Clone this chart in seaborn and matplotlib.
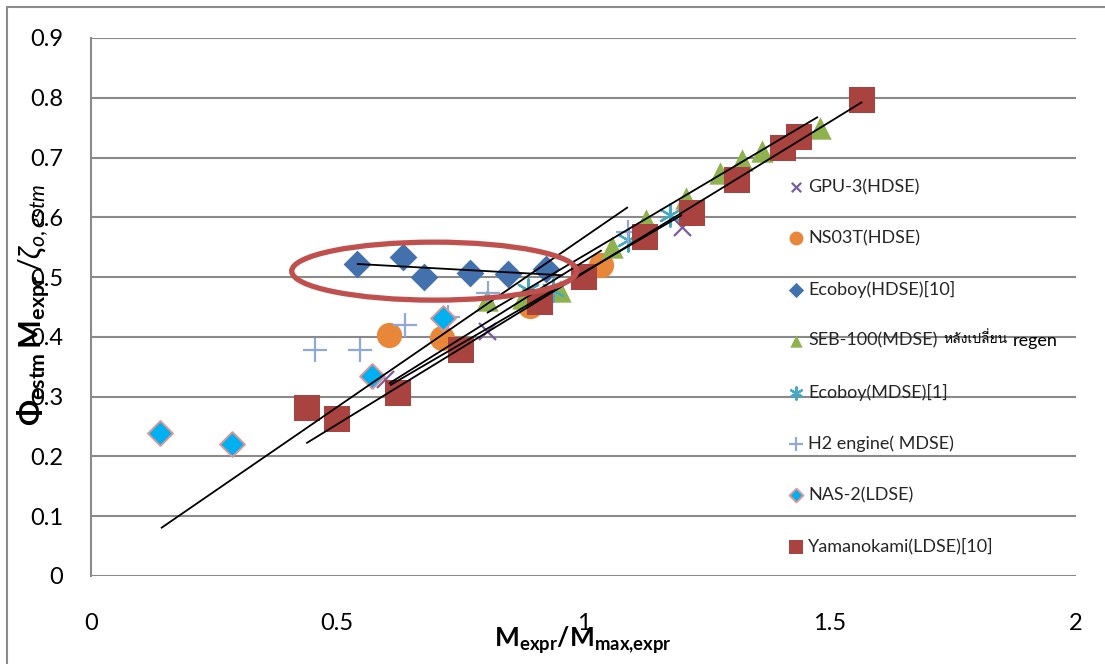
import numpy as np
import pandas as pd
import matplotlib
matplotlib.use("Agg")
import matplotlib.pyplot as plt
from matplotlib.patches import Ellipse, Rectangle
from matplotlib import font_manager as fm
from matplotlib.ft2font import FT2Font
import seaborn as sns

# ---- measured data (M_expr/M_max,expr  vs  efficiency ratio) ----
gpu3_x = [0.597, 0.804, 1.200]
gpu3_y = [0.330, 0.410, 0.584]

ns03t_x = [0.605, 0.713, 0.891, 1.036]
ns03t_y = [0.403, 0.398, 0.452, 0.520]

ecoboy_hdse_x = [0.540, 0.634, 0.676, 0.770, 0.847, 0.924]
ecoboy_hdse_y = [0.522, 0.533, 0.500, 0.507, 0.505, 0.513]

seb100_x = [0.804, 0.877, 0.952, 1.058, 1.127, 1.208, 1.277, 1.322, 1.362, 1.440, 1.480]
seb100_y = [0.462, 0.465, 0.476, 0.550, 0.595, 0.632, 0.674, 0.696, 0.711, 0.736, 0.749]

ecoboy_mdse_x = [0.887, 0.938, 1.090, 1.176]
ecoboy_mdse_y = [0.478, 0.478, 0.562, 0.604]

h2_x = [0.455, 0.546, 0.638, 0.725, 0.806, 1.090]
h2_y = [0.378, 0.378, 0.420, 0.434, 0.473, 0.575]

nas2_x = [0.140, 0.286, 0.571, 0.715]
nas2_y = [0.240, 0.221, 0.334, 0.431]

yama_x = [0.439, 0.500, 0.624, 0.751, 0.912, 1.000, 1.125, 1.220, 1.312, 1.405, 1.438, 1.566]
yama_y = [0.281, 0.263, 0.306, 0.378, 0.458, 0.500, 0.567, 0.607, 0.662, 0.716, 0.734, 0.796]

# straight trend lines (end points in data units)
trend_all_x = [0.142, 1.090]
trend_all_y = [0.080, 0.617]
trend_ecoboy_x = [0.540, 0.958]
trend_ecoboy_y = [0.522, 0.503]
trend_gpu3_x = [0.607, 1.200]
trend_gpu3_y = [0.319, 0.604]
trend_ns03t_x = [0.605, 1.037]
trend_ns03t_y = [0.322, 0.545]
trend_seb_x = [0.804, 1.476]
trend_seb_y = [0.440, 0.768]
trend_yama_x = [0.437, 1.566]
trend_yama_y = [0.222, 0.793]

labels = ["GPU-3(HDSE)", "NS03T(HDSE)", "Ecoboy(HDSE)[10]", "SEB-100(MDSE)",
          "Ecoboy(MDSE)[1]", "H2 engine( MDSE)", "NAS-2(LDSE)", "Yamanokami(LDSE)[10]"]
x_ticks = [0, 0.5, 1, 1.5, 2]
x_tick_labels = ["0", "0.5", "1", "1.5", "2"]
y_ticks = [0, 0.1, 0.2, 0.3, 0.4, 0.5, 0.6, 0.7, 0.8, 0.9]
y_tick_labels = ["0", "0.1", "0.2", "0.3", "0.4", "0.5", "0.6", "0.7", "0.8", "0.9"]


def thai_family():
    for fe in fm.fontManager.ttflist:
        try:
            if 0x0E2B in FT2Font(fe.fname).get_charmap():
                return fe.name
        except Exception:
            continue
    return None


sns.set_theme(style="white")
plt.rcParams["font.family"] = ["Lato", "DejaVu Sans"]
plt.rcParams["mathtext.fontset"] = "custom"
plt.rcParams["mathtext.rm"] = "Lato"
plt.rcParams["mathtext.it"] = "Lato:italic"
plt.rcParams["mathtext.bf"] = "Lato:bold"

W, H = 1105, 664
fig = plt.figure(figsize=(W / 100, H / 100), dpi=100)
fig.patch.set_facecolor("white")

# outer chart border
fig.add_artist(Rectangle((7 / W, -0.05), 1.2, 1 - 7 / H + 0.05, transform=fig.transFigure,
                         fill=False, edgecolor="#8c8c8c", linewidth=1.5, zorder=0))

ax = fig.add_axes([91 / W, 1 - 576 / H, (1076 - 91) / W, (576 - 38) / H])
ax.set_xlim(0, 2)
ax.set_ylim(0, 0.9)
ax.set_xticks(x_ticks, x_tick_labels)
ax.set_yticks(y_ticks, y_tick_labels)
ax.tick_params(axis="both", length=0, labelsize=17, colors="black")
ax.tick_params(axis="y", pad=20)
ax.tick_params(axis="x", pad=27)
ax.yaxis.grid(True, color="#8a8a8a", linewidth=1.5)
ax.xaxis.grid(False)
for s in ["top", "right", "bottom"]:
    ax.spines[s].set_visible(False)
ax.spines["left"].set_color("#8a8a8a")
ax.spines["left"].set_linewidth(1.5)
ax.set_axisbelow(True)

# series
sns.scatterplot(x=gpu3_x, y=gpu3_y, ax=ax, marker="x", s=150, color="#7a5d9e",
                linewidth=1.6, label=labels[0], zorder=3)
sns.scatterplot(x=ns03t_x, y=ns03t_y, ax=ax, marker="o", s=330, color="#e8873a",
                edgecolor="#e8873a", linewidth=0, label=labels[1], zorder=3)
sns.scatterplot(x=ecoboy_hdse_x, y=ecoboy_hdse_y, ax=ax, marker="D", s=200, color="#4271ae",
                edgecolor="#4271ae", linewidth=0, label=labels[2], zorder=3)
sns.scatterplot(x=seb100_x, y=seb100_y, ax=ax, marker="^", s=260, color="#8fb24f",
                edgecolor="#8fb24f", linewidth=0, label=labels[3], zorder=3)
sns.scatterplot(x=ecoboy_mdse_x, y=ecoboy_mdse_y, ax=ax, marker=(6, 2, 0), s=260, color="#46a8c4",
                linewidth=1.6, label=labels[4], zorder=3)
sns.scatterplot(x=h2_x, y=h2_y, ax=ax, marker="+", s=300, color="#8fa8d6",
                linewidth=1.6, label=labels[5], zorder=3)
sns.scatterplot(x=nas2_x, y=nas2_y, ax=ax, marker="D", s=160, color="#00b0f0",
                edgecolor="#d99795", linewidth=1.4, label=labels[6], zorder=3)
sns.scatterplot(x=yama_x, y=yama_y, ax=ax, marker="s", s=330, color="#a9433f",
                edgecolor="#a9433f", linewidth=0, label=labels[7], zorder=3)

# trend lines
for tx, ty in [(trend_all_x, trend_all_y), (trend_ecoboy_x, trend_ecoboy_y),
               (trend_gpu3_x, trend_gpu3_y), (trend_ns03t_x, trend_ns03t_y),
               (trend_seb_x, trend_seb_y), (trend_yama_x, trend_yama_y)]:
    ax.plot(tx, ty, color="black", linewidth=1.3, zorder=4, solid_capstyle="butt")

# highlight ring around the Ecoboy(HDSE) cluster
ax.add_patch(Ellipse((0.697, 0.510), 0.579, 0.097, fill=False, edgecolor="#c0504d",
                     linewidth=3.8, zorder=5))

# legend
leg = ax.legend(loc="upper left", bbox_to_anchor=(791 / W, 1 - 179 / H),
                bbox_transform=fig.transFigure, frameon=False, fontsize=13,
                labelspacing=1.93, handlelength=0.6, handletextpad=0.35,
                borderpad=0, borderaxespad=0, markerscale=0.55)

# axis titles
fig.text(583 / W, 1 - 640 / H, r"$\mathbf{M_{expr}/M_{max{,}expr}}$", ha="center", va="center",
         fontsize=19, color="black")
fig.text(34 / W, 1 - 305 / H,
         r"$\mathbf{\Phi_{estm}}\,\mathbf{M_{expr}}\,/\zeta_{o,estm}$",
         ha="center", va="center", rotation=90, fontsize=22, color="black")

# Thai note after the SEB-100 legend entry
fig.canvas.draw()
renderer = fig.canvas.get_renderer()
seb_txt = leg.get_texts()[3]
bb = seb_txt.get_window_extent(renderer)
thai = thai_family()
fam = [thai, "DejaVu Sans"] if thai else ["DejaVu Sans"]
t1 = fig.text((bb.x1 + 6) / W, (bb.y0 + 3) / H, "หลังเปลี่ยน", fontsize=10, family=fam,
              ha="left", va="bottom", color="black")
fig.canvas.draw()
bb1 = t1.get_window_extent(renderer)
fig.text((bb1.x1 + 5) / W, bb.y0 / H, "regen", fontsize=13, ha="left", va="bottom",
         color="black")

fig.savefig("out.png", dpi=100, facecolor="white")
